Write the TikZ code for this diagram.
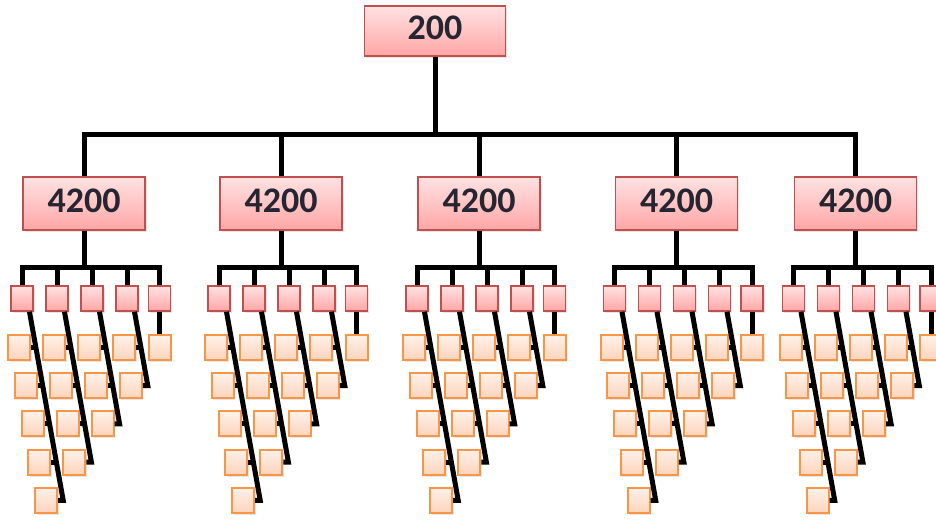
\documentclass[tikz,border=0pt]{standalone}
\usepackage{fontspec}
\setmainfont{Carlito}
\usepackage{xcolor}
\usepackage{tikz}
\usetikzlibrary{shadows}

\definecolor{redline}{RGB}{192,80,77}
\definecolor{redtop}{RGB}{255,226,226}
\definecolor{redbot}{RGB}{255,166,166}
\definecolor{orline}{RGB}{247,150,70}
\definecolor{ortop}{RGB}{255,241,233}
\definecolor{orbot}{RGB}{252,212,188}
\definecolor{numcol}{RGB}{38,38,51}

\tikzset{
  pbox/.style={draw=redline,line width=1.6pt,top color=redtop,bottom color=redbot,inner sep=0pt,
    drop shadow={opacity=.2,shadow xshift=1.5pt,shadow yshift=-2pt}},
  numbox/.style={pbox,minimum width=122pt,minimum height=53pt,text=numcol,
    text height=23pt,text depth=6pt,font=\fontsize{36}{40}\selectfont\bfseries},
  sbox/.style={pbox,minimum width=22pt,minimum height=25pt},
  leafbox/.style={sbox,draw=orline,line width=2pt,top color=ortop,bottom color=orbot},
  link/.style={line width=5pt}
}

\begin{document}
\begin{tikzpicture}[x=1pt,y=-1pt]
  \useasboundingbox (0,0) rectangle (936,519);
  \node[numbox,minimum width=141pt,minimum height=50pt] (r) at (435,31) {200};
  \coordinate (bar) at (435,134);
  \draw[link] (r) -- (bar);
  \foreach \c [count=\g] in {84,281,479,676.5,855.5} {
    \node[numbox] (m-\g) at (\c,203.5) {4200\hspace{7pt}};
    \coordinate (b-\g) at (\c,267);
    \draw[link] (m-\g.north) |- (bar);
    \draw[link] (m-\g) -- (b-\g);
    \foreach \d [count=\j] in {-62,-27,8,43,75.5} {
      \node[sbox] (s-\g-\j) at (\c+\d,298.5) {};
      \draw[link] (s-\g-\j.north) |- (b-\g);
      \pgfmathtruncatemacro\n{6-\j}
      % leaves hang off each small box, one row lower and a bit further right
      \foreach \k in {1,...,\n} {
        \pgfmathsetmacro\ox{\c+\d+(\j<5 ? (\k-1)*6.8-3 : 0)}
        \node[leafbox] (o-\g-\j-\k) at (\ox,309.3+38.2*\k) {};
        \ifnum\k<\n \draw[link] (o-\g-\j-\k.east) -- ++(6,0); \fi
      }
      \ifnum\j<5
        \draw[link] ([xshift=7.5pt]s-\g-\j.south) -- ([xshift=5pt]o-\g-\j-\n.east) -- (o-\g-\j-\n.east);
      \else
        \draw[link] (s-\g-\j) -- (o-\g-\j-1);
      \fi
    }
  }
\end{tikzpicture}
\end{document}
